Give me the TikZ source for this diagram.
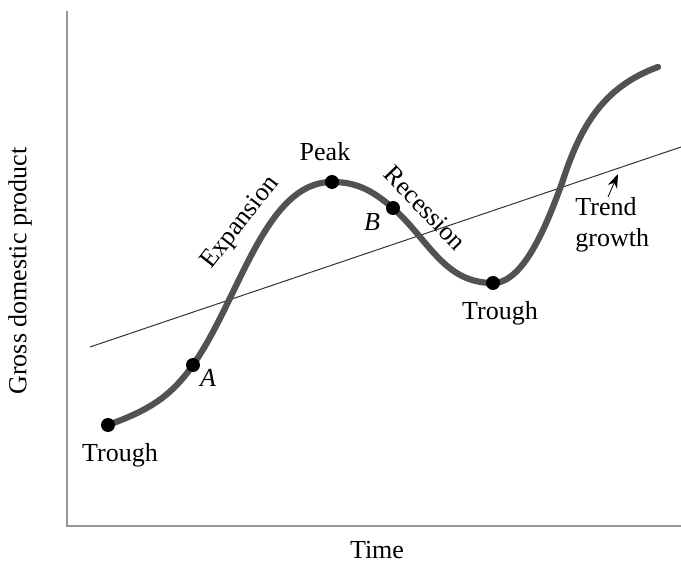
\documentclass[tikz,border=0pt]{standalone}
\usepackage{fontspec}
\setmainfont{Liberation Serif}
\usepackage{tikz}
\usetikzlibrary{arrows.meta,positioning,calc}
\definecolor{cgray}{RGB}{82,82,82}
\definecolor{axgray}{RGB}{150,150,150}

\begin{document}
\begin{tikzpicture}[x=0.5pt,y=0.5pt,
  curve/.style={cgray,line width=3.1pt,line cap=round},
  dot/.style={circle,fill=black,inner sep=0pt,minimum size=7pt},
  lbl/.style={font=\fontsize{13}{15.5}\selectfont,inner sep=1pt},
  arr/.style={-{Stealth[length=7pt,width=5pt]},thin,black}]
\useasboundingbox (0,0) rectangle (681,563);
% axes
\coordinate (origin) at (67,37);
\coordinate (ytop) at (67,552);
\coordinate (xend) at (681,37);
\draw[axgray,line width=1pt] (ytop) -- (origin) -- (xend);
\node[lbl,rotate=90] (ylab) at (20,292) {Gross domestic product};
\node[lbl] (xlab) at (377,13) {Time};
% trend line
\coordinate (tstart) at (90,216);
\coordinate (tend) at (681,416);
\draw[black!80,line width=0.5pt] (tstart) -- (tend);
% business cycle
\coordinate (t1) at (108,138);
\coordinate (a) at (193,198);
\coordinate (pk) at (332,381);
\coordinate (b) at (393,355);
\coordinate (t2) at (493,280);
\coordinate (up) at (562,380);
\coordinate (e) at (658,496);
\draw[curve] (t1) to[out=20,in=235] (a)
  to[out=55,in=180,out distance=41pt,in distance=33.5pt] (pk)
  to[out=0,in=140] (b)
  to[out=-42,in=180] (t2)
  to[out=0,in=250,out distance=15pt] (up)
  to[out=72,in=200] (e);
\node[dot] (dt1) at (t1) {};
\node[dot] (da) at (a) {};
\node[dot] (dpk) at (pk) {};
\node[dot] (db) at (b) {};
\node[dot] (dt2) at (t2) {};
% labels
\node[lbl] (lt1) at (120,108) {Trough};
\node[lbl] (la) at (208,185) {\itshape A};
\node[lbl,rotate=52] (lexp) at (241,340) {Expansion};
\node[lbl] (lpk) at (325,411) {Peak};
\node[lbl] (lb) at (372,341) {\itshape B};
\node[lbl,rotate=-46] (lrec) at (425,355) {Recession};
\node[lbl] (lt2) at (500,250) {Trough};
\node[lbl,align=left,anchor=north west] (trend) at (573,368) {Trend\\growth};
\coordinate (tail) at (608,366);
\coordinate (tip) at (618,389);
\draw[arr] (tail) -- (tip);
\end{tikzpicture}
\end{document}
